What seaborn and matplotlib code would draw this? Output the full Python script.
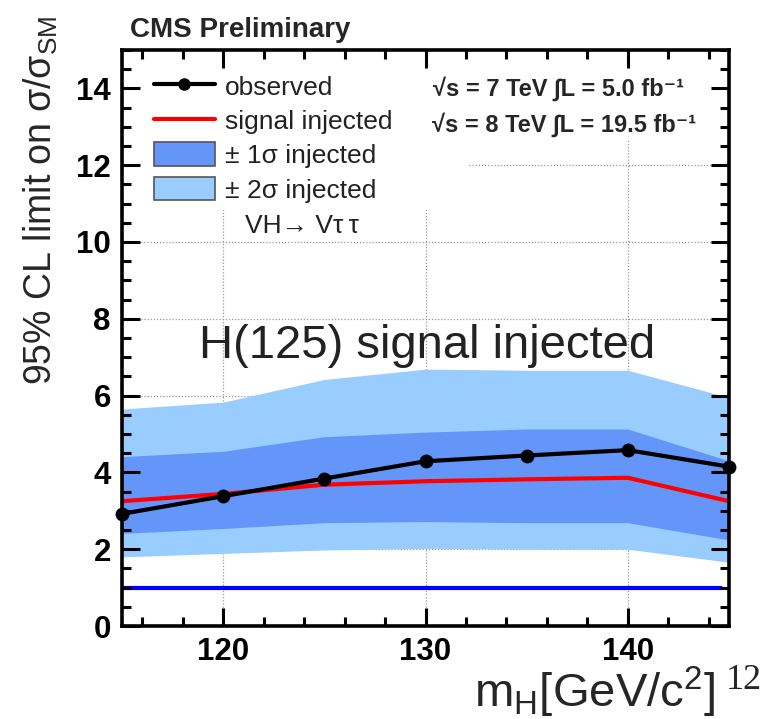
import numpy as np
import pandas as pd
import seaborn as sns
import matplotlib
matplotlib.use("Agg")
import matplotlib.pyplot as plt
from matplotlib.patches import Patch, Rectangle
from matplotlib.lines import Line2D
from matplotlib.ticker import MultipleLocator

# ---- data ----
mass = [115, 120, 125, 130, 135, 140, 145]
observed = [2.92, 3.38, 3.84, 4.29, 4.44, 4.58, 4.15]
injected = [3.25, 3.44, 3.68, 3.77, 3.82, 3.86, 3.25]
band1_lo = [2.41, 2.54, 2.69, 2.72, 2.69, 2.69, 2.24]
band1_hi = [4.41, 4.55, 4.93, 5.05, 5.13, 5.13, 4.30]
band2_lo = [1.80, 1.89, 1.98, 2.02, 2.00, 2.00, 1.66]
band2_hi = [5.65, 5.83, 6.42, 6.69, 6.66, 6.66, 5.95]
sm_x = [115, 144.6]
sm_y = [1.0, 1.0]
xticks = [120, 130, 140]
yticks = [0, 2, 4, 6, 8, 10, 12, 14]

df = pd.DataFrame({"mass": mass, "observed": observed, "injected": injected})
sm_df = pd.DataFrame({"mass": sm_x, "limit": sm_y})

sns.set_style("ticks")
plt.rcParams["font.family"] = ["Liberation Sans", "DejaVu Sans"]
plt.rcParams["mathtext.fontset"] = "custom"
plt.rcParams["mathtext.rm"] = "Liberation Sans"
plt.rcParams["mathtext.it"] = "Liberation Sans:italic"
plt.rcParams["mathtext.bf"] = "Liberation Sans:bold"

W, H = 769, 719
fig = plt.figure(figsize=(W / 100, H / 100), dpi=100)
ax = fig.add_axes([122 / W, 1 - 626 / H, (729 - 122) / W, (626 - 50) / H])

c1 = "#6496FA"
c2 = "#99CCFF"

# dotted grid at the major ticks, below everything
for xv in xticks:
    ax.axvline(xv, color="#999999", ls=(0, (1, 1.5)), lw=0.9, zorder=1)
for yv in yticks[1:]:
    ax.axhline(yv, color="#999999", ls=(0, (1, 1.5)), lw=0.9, zorder=1)
# white areas behind legend and energy label (hide grid there)
ax.add_patch(Rectangle((0, (626 - 210) / 576), (468 - 122) / 607, 1,
                       transform=ax.transAxes, facecolor="white", lw=0, zorder=1.5))
ax.add_patch(Rectangle(((420 - 122) / 607, (626 - 140) / 576), 1, 1,
                       transform=ax.transAxes, facecolor="white", lw=0, zorder=1.5))

ax.fill_between(mass, band2_lo, band2_hi, color=c2, lw=0, zorder=2)
ax.fill_between(mass, band1_lo, band1_hi, color=c1, lw=0, zorder=3)
sns.lineplot(data=df, x="mass", y="injected", color="#FF0000", lw=3, ax=ax, zorder=4)
sns.lineplot(data=sm_df, x="mass", y="limit", color="#0000FF", lw=3, ax=ax, zorder=4)
sns.lineplot(data=df, x="mass", y="observed", color="black", lw=3, marker="o",
             markersize=10, markeredgewidth=0, ax=ax, zorder=5, clip_on=False)

ax.set_xlim(115, 145)
ax.set_ylim(0, 15)
ax.set_xticks(xticks)
ax.set_yticks(yticks)
ax.xaxis.set_minor_locator(MultipleLocator(2))
ax.yaxis.set_minor_locator(MultipleLocator(0.5))
ax.grid(False)
ax.xaxis.set_zorder(6)
ax.yaxis.set_zorder(6)
ax.tick_params(which="both", direction="in", top=True, right=True, width=2.2,
               colors="black")
ax.tick_params(which="major", length=13, labelsize=22.5, pad=8)
ax.tick_params(which="minor", length=6.5)
for lab in ax.get_xticklabels() + ax.get_yticklabels():
    lab.set_fontweight("bold")
for s in ax.spines.values():
    s.set_linewidth(2.6)
    s.set_color("black")
    s.set_zorder(6)
ax.set_xlabel("")
ax.set_ylabel("")

# legend
handles = [
    Line2D([], [], color="black", lw=3, marker="o", markersize=8),
    Line2D([], [], color="#FF0000", lw=3),
    Patch(facecolor=c1, edgecolor="#555555", lw=1.2),
    Patch(facecolor=c2, edgecolor="#555555", lw=1.2),
]
labels = ["observed", "signal injected", "\u00B1 1\u03C3 injected",
          "\u00B1 2\u03C3 injected"]
leg = ax.legend(handles, labels, loc="upper left",
                bbox_to_anchor=(16 / 607, 1 - 8 / 576),
                fontsize=19, frameon=False, handlelength=2.3,
                handleheight=1.0, labelspacing=0.32, handletextpad=0.4,
                borderpad=0.6, borderaxespad=0.0)
leg.set_zorder(5.5)
for t in leg.get_texts():
    t.set_color("#222222")

fig.text(245 / W, 1 - 226 / H, "VH\u2192 V\u03C4\u2009\u03C4", fontsize=19,
         color="#222222", va="center", ha="left")

fig.text(433 / W, 1 - 89 / H, "\u221As = 7 TeV \u222BL = 5.0 fb\u207B\u00B9",
         ha="left", va="center", fontsize=17, fontweight="bold")
fig.text(432 / W, 1 - 125 / H, "\u221As = 8 TeV \u222BL = 19.5 fb\u207B\u00B9",
         ha="left", va="center", fontsize=17, fontweight="bold")

ax.text(130.1, 6.98, "H(125) signal injected", fontsize=34, color="#222222",
        ha="center", va="baseline", zorder=8)

fig.text(130 / W, 1 - 37 / H, "CMS Preliminary", fontsize=20, fontweight="bold",
         ha="left", va="baseline")

fig.text(22 / W, 1 - 385 / H, "95% CL limit on σ/σ$_{\\mathrm{SM}}$", rotation=90,
         fontsize=27, ha="left", va="bottom")

fig.text(474 / W, 1 - 707 / H, "m$_{\\mathrm{H}}$[GeV/c$^{2}$]", fontsize=34,
         ha="left", va="baseline")
fig.text(726 / W, 1 - 689 / H, "12", fontsize=26, family="Liberation Serif",
         ha="left", va="baseline")

fig.savefig("out.png", dpi=100)
